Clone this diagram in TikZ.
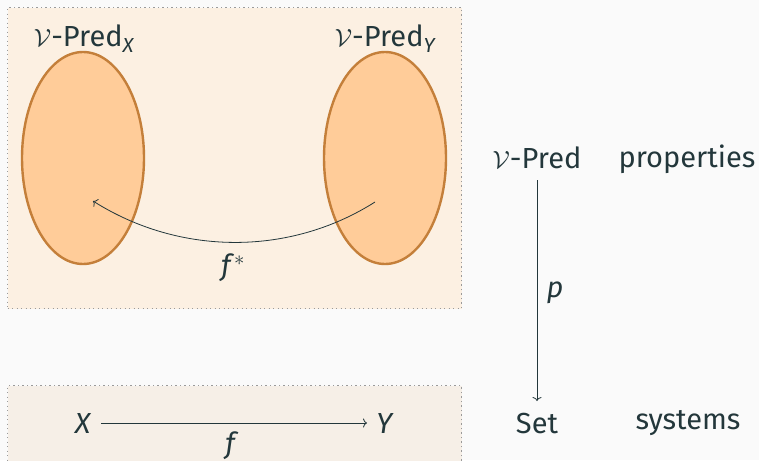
\documentclass[tikz,border=0pt]{standalone}
\usepackage{amsmath}
\usepackage{fontspec}
\setmainfont{Fira Sans}
\usetikzlibrary{shapes.geometric,arrows.meta}
\definecolor{ink}{HTML}{23373B}
\definecolor{bg}{HTML}{FAFAFA}
\definecolor{topfill}{HTML}{FCF0E2}
\definecolor{botfill}{HTML}{F6EFE7}
\definecolor{ellfill}{HTML}{FFCC99}
\definecolor{elldraw}{HTML}{C47F3A}
\definecolor{dotgray}{HTML}{9A9A9A}
\tikzset{
  lbl/.style={anchor=base, text=ink, inner sep=0pt, font=\fontsize{29}{34}\selectfont},
  region/.style={draw=dotgray, dash pattern=on 1.3pt off 3.2pt, line width=1.3pt},
  blob/.style={ellipse, draw=elldraw, fill=ellfill, line width=2.4pt, minimum width=122pt, minimum height=212pt, inner sep=0pt},
  arr/.style={draw=ink, line width=0.8pt, -{To[length=4pt,width=9pt]}}
}
\newcommand{\Vc}{$\mathcal{V}$}
\begin{document}
\begin{tikzpicture}[x=1pt,y=-1pt]
\fill[bg] (0,0) rectangle (759,460);
\useasboundingbox (0,0) rectangle (759,460);
\node[region, fill=topfill, minimum width=454pt, minimum height=301pt, anchor=north west, inner sep=0pt] (topbox) at (7,7) {};
\node[region, fill=botfill, minimum width=454pt, minimum height=80pt, anchor=north west, inner sep=0pt] (botbox) at (7,385) {};
\node[blob] (ellX) at (83,158) {};
\node[blob] (ellY) at (385,158) {};
\node[lbl] (predX) at (84,47) {\Vc-Pred$_{\textit{X}}$};
\node[lbl] (predY) at (385,47) {\Vc-Pred$_{\textit{Y}}$};
\coordinate (cY) at (375,202);
\coordinate (cX) at (93,201);
\draw[arr] (cY) .. controls (290,256) and (180,256) .. (cX);
\node[lbl] (fstar) at (233,275) {\textit{f}$^{*}$};
\node[lbl] (vpred) at (537,168) {\Vc-Pred};
\node[lbl] (props) at (687,167) {properties};
\node[lbl] (set) at (537,433) {Set};
\node[lbl] (sys) at (688,429) {systems};
\coordinate (pTop) at (537,180);
\coordinate (pBot) at (537,401);
\draw[arr] (pTop) -- (pBot);
\node[lbl] (p) at (555,297) {\textit{p}};
\node[lbl] (X) at (83,433) {\textit{X}};
\node[lbl] (Y) at (385,433) {\textit{Y}};
\coordinate (xs) at (101,423);
\coordinate (ye) at (367,423);
\draw[arr] (xs) -- (ye);
\node[lbl] (f) at (232,453) {\textit{f}};
\end{tikzpicture}
\end{document}
